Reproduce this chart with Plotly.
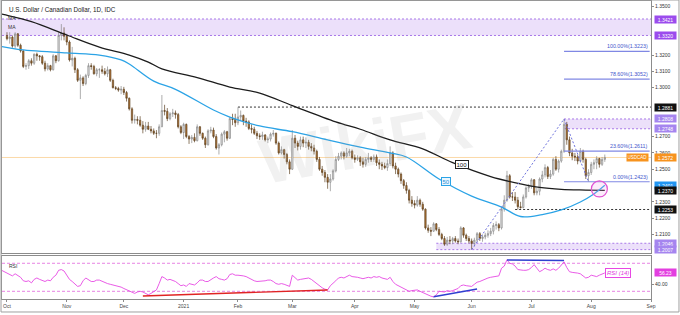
import pandas as pd
import plotly.graph_objects as go
from plotly.subplots import make_subplots

FONT = "Liberation Sans"
HOLIDAYS = ["2020-12-25", "2021-01-01"]
FIRST_OPEN = 3320  # pips above 1.0000

# ---- daily candles, Oct 1 2020 .. Aug 9 2021 (values in pips: 3300 -> 1.3300)
close_pips = [
    3300, 3310, 3255, 3330, 3260, 3225, 3130, 3135, 3165, 3150, 3205, 3195, 3190, 3150, 3115, 3135, 3110, 3195, 3165, 3320, 3335, 3315,
    3280, 3170, 3180, 3110, 3045, 3060, 3025, 3075, 3135, 3130, 3085, 3110, 3110, 3100, 3085, 3110, 3045, 3000, 2995, 2985, 2990,
    2970, 2935, 2870, 2800, 2805, 2800, 2770, 2745, 2765, 2745, 2735, 2720, 2720, 2760, 2860, 2855, 2810, 2840, 2845, 2835, 2760, 2725,
    2775, 2700, 2685, 2695, 2675, 2760, 2720, 2690, 2650, 2735, 2740, 2700, 2630, 2650, 2715, 2730, 2690, 2810, 2805, 2785,
    2820, 2830, 2795, 2790, 2750, 2745, 2720, 2705, 2700, 2710, 2680, 2685, 2715, 2720, 2660, 2600, 2620, 2590, 2545, 2500,
    2690, 2660, 2640, 2680, 2660, 2665, 2640, 2630, 2610, 2560, 2500, 2480, 2450, 2420, 2440, 2490, 2560, 2580, 2600, 2580, 2600, 2610, 2570,
    2560, 2570, 2545, 2530, 2560, 2570, 2560, 2575, 2540, 2530, 2520, 2510, 2535, 2600, 2520, 2500, 2470, 2430, 2400, 2370, 2310, 2290,
    2280, 2310, 2285, 2255, 2140, 2125, 2120, 2165, 2130, 2100, 2075, 2040, 2065, 2060, 2075, 2060, 2055, 2140, 2095, 2075, 2060,
    2045, 2065, 2105, 2075, 2085, 2095, 2105, 2120, 2155, 2160, 2140, 2255, 2310, 2460, 2330, 2330, 2310, 2270, 2265, 2330, 2385, 2395,
    2435, 2355, 2365, 2440, 2465, 2510, 2455, 2470, 2560, 2500, 2550, 2610, 2775, 2680, 2600, 2580, 2575, 2550, 2610, 2560, 2460, 2480,
    2530, 2540, 2565, 2530, 2560, 2572,
]
high_pips = [
    3340, 3340, 3320, 3340, 3335, 3270, 3230, 3150, 3175, 3180, 3210, 3215, 3200, 3200, 3165, 3150, 3140, 3205, 3200, 3340, 3390, 3370,
    3330, 3290, 3250, 3190, 3120, 3080, 3070, 3085, 3150, 3150, 3140, 3120, 3120, 3135, 3120, 3130, 3115, 3055, 3010, 3005, 3010,
    3005, 2980, 2940, 2880, 2835, 2825, 2825, 2795, 2790, 2790, 2765, 2750, 2740, 2775, 2955, 2895, 2875, 2850, 2870, 2860, 2845, 2770,
    2785, 2780, 2710, 2710, 2720, 2775, 2765, 2725, 2700, 2745, 2760, 2755, 2715, 2660, 2725, 2740, 2735, 2820, 2840, 2840,
    2880, 2860, 2835, 2815, 2800, 2775, 2760, 2735, 2720, 2730, 2715, 2700, 2725, 2740, 2725, 2670, 2640, 2625, 2600, 2560,
    2740, 2710, 2675, 2700, 2700, 2695, 2680, 2660, 2650, 2620, 2575, 2520, 2495, 2470, 2470, 2500, 2580, 2600, 2610, 2610, 2630, 2625, 2620,
    2590, 2585, 2580, 2570, 2575, 2600, 2580, 2590, 2590, 2560, 2545, 2540, 2560, 2640, 2610, 2540, 2510, 2480, 2440, 2420, 2380, 2335,
    2310, 2335, 2320, 2300, 2260, 2160, 2145, 2175, 2170, 2145, 2110, 2090, 2085, 2090, 2085, 2090, 2075, 2150, 2145, 2105, 2090,
    2075, 2080, 2115, 2115, 2100, 2110, 2125, 2140, 2170, 2180, 2170, 2270, 2340, 2490, 2470, 2360, 2360, 2330, 2300, 2345, 2395, 2410,
    2445, 2440, 2385, 2450, 2490, 2530, 2520, 2495, 2570, 2580, 2560, 2620, 2808, 2790, 2700, 2625, 2600, 2590, 2630, 2620, 2570, 2500,
    2545, 2560, 2580, 2570, 2575, 2590,
]
low_pips = [
    3290, 3270, 3245, 3240, 3250, 3215, 3120, 3110, 3115, 3135, 3140, 3165, 3165, 3140, 3100, 3105, 3100, 3105, 3150, 3160, 3290, 3290,
    3260, 3160, 3130, 3090, 3035, 2930, 3010, 3015, 3060, 3110, 3080, 3070, 3060, 3085, 3075, 3065, 3035, 2995, 2985, 2975, 2960,
    2955, 2915, 2860, 2780, 2780, 2775, 2760, 2720, 2730, 2740, 2720, 2710, 2690, 2705, 2760, 2830, 2795, 2800, 2820, 2810, 2750, 2715,
    2685, 2690, 2655, 2660, 2665, 2670, 2705, 2680, 2630, 2645, 2720, 2690, 2620, 2590, 2640, 2665, 2675, 2685, 2770, 2760,
    2770, 2795, 2770, 2760, 2740, 2720, 2710, 2685, 2680, 2680, 2670, 2660, 2670, 2700, 2650, 2590, 2590, 2565, 2530, 2470,
    2495, 2630, 2615, 2620, 2635, 2630, 2620, 2610, 2590, 2545, 2490, 2460, 2420, 2380, 2365, 2430, 2480, 2550, 2560, 2560, 2570, 2580, 2560,
    2540, 2550, 2520, 2510, 2515, 2540, 2545, 2545, 2520, 2500, 2495, 2500, 2490, 2520, 2505, 2470, 2450, 2410, 2380, 2350, 2290, 2270,
    2260, 2270, 2270, 2245, 2130, 2110, 2090, 2115, 2120, 2090, 2065, 2030, 2030, 2040, 2040, 2050, 2040, 2050, 2080, 2060, 2045,
    2007, 2025, 2050, 2060, 2055, 2070, 2080, 2090, 2100, 2130, 2120, 2130, 2240, 2300, 2320, 2305, 2290, 2253, 2258, 2260, 2320, 2360,
    2380, 2340, 2340, 2340, 2420, 2450, 2440, 2440, 2460, 2490, 2480, 2540, 2600, 2650, 2580, 2555, 2550, 2530, 2540, 2540, 2440, 2423,
    2465, 2500, 2500, 2510, 2520, 2545,
]

# ---- moving averages (read at intervals)
ma100_dates = ["2020-09-29", "2020-09-30", "2020-10-14", "2020-11-02", "2020-11-18", "2020-12-03", "2020-12-14",
               "2020-12-21", "2021-01-11", "2021-01-27", "2021-02-11", "2021-03-01", "2021-03-23", "2021-04-05",
               "2021-04-20", "2021-05-06", "2021-05-21", "2021-06-10", "2021-06-25", "2021-07-06", "2021-07-16",
               "2021-07-29", "2021-08-09"]
ma100_vals = [1.3452, 1.3448, 1.3405, 1.3323, 1.3249, 1.3200, 1.3157, 1.3115, 1.3062, 1.3004, 1.2967, 1.2890,
              1.2790, 1.2745, 1.2680, 1.2625, 1.2540, 1.2455, 1.2410, 1.2388, 1.2376, 1.2372, 1.2370]
ma50_dates = ["2020-09-29", "2020-10-07", "2020-11-02", "2020-11-18", "2020-11-30", "2020-12-03", "2020-12-16",
              "2020-12-29", "2021-01-19", "2021-01-27", "2021-02-11", "2021-03-01", "2021-03-18", "2021-04-05",
              "2021-04-20", "2021-04-28", "2021-05-14", "2021-06-01", "2021-06-16", "2021-06-25", "2021-07-07",
              "2021-07-16", "2021-07-27", "2021-08-03", "2021-08-09"]
ma50_vals = [1.3252, 1.3235, 1.3213, 1.3200, 1.3170, 1.3145, 1.3040, 1.2990, 1.2863, 1.2820, 1.2765, 1.2730,
             1.2680, 1.2636, 1.2600, 1.2575, 1.2440, 1.2335, 1.2268, 1.2210, 1.2222, 1.2250, 1.2299, 1.2348, 1.2401]

# ---- RSI(14), Sep 29 2020 .. Aug 9 2021
rsi_vals = [
    60, 58,
    56, 53, 52, 55, 52, 50, 45, 44, 45, 42, 47, 49, 47, 45, 44, 46, 45, 50, 53, 60, 61, 59,
    53, 47, 44, 41, 37, 38, 45, 49, 47, 44, 44, 46, 46, 44, 43, 41, 40, 39, 39, 38, 36,
    34, 32, 30, 28, 27, 29, 30, 29, 27, 25, 27, 30, 32, 41, 51, 49, 46, 47, 46, 44, 41, 38,
    39, 37, 41, 40, 39, 42, 46, 46, 44, 44, 47, 49, 51, 48, 47, 46, 48, 54, 55, 53,
    53, 53, 52, 51, 49, 46, 45, 44, 44, 44, 45, 46, 46, 44, 41, 40, 41, 40, 38, 37,
    53, 50, 46, 47, 48, 48, 49, 47, 44, 40, 37, 35, 33, 32, 38, 41, 45, 49, 50, 49, 51, 53, 51,
    51, 50, 49, 48, 49, 50, 49, 51, 50, 51, 49, 48, 47, 50, 44, 40, 38, 35, 33, 31, 30, 31,
    32, 32, 30, 28, 27, 25, 23, 22, 25, 30, 30, 29, 31, 30, 31, 33, 34, 38, 39, 38, 37,
    37, 40, 43, 44, 46, 48, 49, 50, 51, 51, 52, 63, 66, 75, 70, 69, 66, 61, 60, 60, 60, 61,
    64, 68, 63, 58, 60, 63, 61, 60, 62, 60, 63, 67, 72, 64, 58, 57, 57, 56, 55, 52, 49, 50,
    53, 52, 51, 53, 55, 56.23,
]

# ---- levels / labels
zones = [(1.3320, 1.3421, None), (1.2748, 1.2808, "2021-07-19"), (1.2007, 1.2046, "2021-05-13")]
fib_levels = [1.3223, 1.3052, 1.2611, 1.2423]
fib_labels = ["100.00%(1.3223)", "78.60%(1.3052)", "23.60%(1.2611)", "0.00%(1.2423)"]
dashed_levels = [(1.2881, "2021-02-01"), (1.2253, "2021-06-23")]
tags = [(1.3421, "1.3421", "#9b4ced"), (1.3320, "1.3320", "#9b4ced"), (1.2881, "1.2881", "#111111"),
        (1.2808, "1.2808", "#a585ef"), (1.2748, "1.2748", "#a585ef"), (1.2572, "1.2572", "#f7931e"),
        (1.2401, "1.2401", "#2196f3"), (1.2370, "1.2370", "#111111"), (1.2253, "1.2253", "#111111"),
        (1.2046, "1.2046", "#a585ef"), (1.2007, "1.2007", "#a585ef")]
month_ticks = ["2020-10-01", "2020-11-02", "2020-12-01", "2021-01-04", "2021-02-01", "2021-03-01", "2021-04-01",
               "2021-05-03", "2021-06-01", "2021-07-01", "2021-08-02", "2021-09-01"]
month_text = ["Oct", "Nov", "Dec", "2021", "Feb", "Mar", "Apr", "May", "Jun", "Jul", "Aug", "Sep"]
# axis labels left visible between the tags
price_ticks = [1.21, 1.22, 1.23, 1.25, 1.26, 1.27, 1.30, 1.31, 1.32, 1.35]
rsi_ticks = [40]

# ---- build
dates = [d for d in pd.bdate_range("2020-10-01", "2021-08-09") if d.strftime("%Y-%m-%d") not in HOLIDAYS]
rsi_dates = [d for d in pd.bdate_range("2020-09-29", "2021-08-09") if d.strftime("%Y-%m-%d") not in HOLIDAYS]
n = len(dates)
for name, arr in [("close", close_pips), ("high", high_pips), ("low", low_pips)]:
    if len(arr) != n:
        raise SystemExit(f"{name} has {len(arr)} values, expected {n}")
if len(rsi_vals) != len(rsi_dates):
    raise SystemExit(f"rsi has {len(rsi_vals)} values, expected {len(rsi_dates)}")

closes = [1 + v / 10000 for v in close_pips]
highs = [1 + v / 10000 for v in high_pips]
lows = [1 + v / 10000 for v in low_pips]
opens = [1 + FIRST_OPEN / 10000] + closes[:-1]

X0, X1 = "2020-09-29 04:00", "2021-09-01 00:00"
XEND = "2021-08-31 12:00"
Y0, Y1 = 1.19863, 1.35314

fig = make_subplots(rows=2, cols=1, shared_xaxes=True, vertical_spacing=0.0)

fig.add_trace(go.Candlestick(
    x=dates, open=opens, high=highs, low=lows, close=closes,
    increasing=dict(line=dict(color="#8a8a8a", width=0.7), fillcolor="#e6e6e6"),
    decreasing=dict(line=dict(color="#5e4424", width=0.7), fillcolor="#b8742e"),
    whiskerwidth=0, hoverinfo="skip", showlegend=False), row=1, col=1)
fig.add_trace(go.Scatter(x=ma100_dates, y=ma100_vals, mode="lines",
                         line=dict(color="#1c1c1c", width=1.3, shape="spline"),
                         hoverinfo="skip", showlegend=False), row=1, col=1)
fig.add_trace(go.Scatter(x=ma50_dates, y=ma50_vals, mode="lines",
                         line=dict(color="#2ba3e6", width=1.3, shape="spline"),
                         hoverinfo="skip", showlegend=False), row=1, col=1)
fig.add_trace(go.Scatter(x=rsi_dates, y=rsi_vals, mode="lines",
                         line=dict(color="#e748e3", width=0.9),
                         hoverinfo="skip", showlegend=False), row=2, col=1)

shapes = []
# current price line
shapes.append(dict(type="line", xref="paper", yref="y", x0=0, x1=1, y0=1.2572, y1=1.2572,
                   line=dict(color="#fbd9a8", width=1), layer="below"))
for lo, hi, start in zones:
    if start is None:
        xr, a, b = "paper", 0, 1
    else:
        xr, a, b = "x", start, X1
    shapes.append(dict(type="rect", xref=xr, yref="y", x0=a, x1=b, y0=lo, y1=hi,
                       fillcolor="#ece0fa", line=dict(width=0), layer="below"))
    for lv in (lo, hi):
        shapes.append(dict(type="line", xref=xr, yref="y", x0=a, x1=b, y0=lv, y1=lv,
                           line=dict(color="#a878e8", width=1, dash="2px,2px"), layer="below"))
for lv, start in dashed_levels:
    shapes.append(dict(type="line", xref="x", yref="y", x0=start, x1=X1, y0=lv, y1=lv,
                       line=dict(color="#333333", width=1, dash="2px,2px"), layer="below"))
for lv in fib_levels:
    shapes.append(dict(type="line", xref="x", yref="y", x0="2021-07-19", x1=XEND, y0=lv, y1=lv,
                       line=dict(color="#8088e4", width=1.2)))
# fib extension path
for (xa, ya), (xb, yb) in [(("2021-06-01", 1.2007), ("2021-07-19", 1.2808)),
                           (("2021-07-19", 1.2808), ("2021-07-30", 1.2423))]:
    shapes.append(dict(type="line", xref="x", yref="y", x0=xa, x1=xb, y0=ya, y1=yb,
                       line=dict(color="#6d72dc", width=1, dash="2px,2px")))
# crossover circle
shapes.append(dict(type="circle", xref="x", yref="y", xsizemode="pixel", ysizemode="pixel",
                   xanchor="2021-08-05", yanchor=1.2379, x0=-8, x1=8, y0=-8, y1=8,
                   line=dict(color="#e052d2", width=1.2), fillcolor="rgba(240,170,235,0.22)"))
# RSI guides
for lv in (70, 30):
    shapes.append(dict(type="line", xref="paper", yref="y2", x0=0, x1=1, y0=lv, y1=lv,
                       line=dict(color="#e783e3", width=1, dash="3px,2px"), layer="below"))
for (xa, ya), (xb, yb), col in [(("2020-12-10", 23.3), ("2021-03-18", 31.9), "#e02424"),
                                (("2021-05-12", 22.3), ("2021-06-03", 33.3), "#2f3fd0"),
                                (("2021-06-18", 74.7), ("2021-07-19", 73.9), "#2f3fd0")]:
    shapes.append(dict(type="line", xref="x2", yref="y2", x0=xa, x1=xb, y0=ya, y1=yb,
                       line=dict(color=col, width=1.4)))
# outer frame
shapes.append(dict(type="rect", xref="paper", yref="paper", x0=-0.0015, x1=1.0431, y0=-0.0436, y1=1.0034,
                   line=dict(color="#a0a0a0", width=1), fillcolor="rgba(0,0,0,0)"))
fig.update_layout(shapes=shapes)

ann = []
ann.append(dict(xref="paper", yref="paper", x=0.56, y=0.33, text="<b>WikiFX</b>", showarrow=False,
                textangle=-10, font=dict(size=64, color="rgba(160,160,160,0.15)", family=FONT)))
ann.append(dict(xref="paper", yref="paper", x=0.0077, y=0.9698, xanchor="left", yanchor="middle",
                text="U.S. Dollar / Canadian Dollar, 1D, IDC", showarrow=False,
                font=dict(size=6.3, color="#222222", family=FONT)))
for yy in (0.9446, 0.9128):
    ann.append(dict(xref="paper", yref="paper", x=0.006, y=yy, xanchor="left", yanchor="middle",
                    text="MA", showarrow=False, font=dict(size=5, color="#333333", family=FONT)))
ann.append(dict(xref="paper", yref="paper", x=0.0077, y=0.1124, xanchor="left", yanchor="middle",
                text="RSI", showarrow=False, font=dict(size=5, color="#333333", family=FONT)))
for lv, lab in zip(fib_levels, fib_labels):
    ann.append(dict(xref="x", yref="y", x=XEND, y=lv, xanchor="right", yanchor="bottom", yshift=0,
                    text=lab, showarrow=False, font=dict(size=5.3, color="#4356cc", family=FONT)))
ann.append(dict(xref="x", yref="y", x="2021-05-26 12:00", y=1.2529, text="100", showarrow=False,
                bgcolor="white", bordercolor="#222222", borderwidth=1, borderpad=0.5,
                font=dict(size=6, color="#111111", family=FONT)))
ann.append(dict(xref="x", yref="y", x="2021-05-18 10:00", y=1.2425, text="50", showarrow=False,
                bgcolor="#eaf6fe", bordercolor="#2ba3e6", borderwidth=1, borderpad=0.5,
                font=dict(size=6, color="#2a8fd8", family=FONT)))
ann.append(dict(xref="paper", yref="y", x=1, xanchor="right", xshift=-2, y=1.2572, text="USDCAD",
                showarrow=False, bgcolor="#f7931e", width=20, height=6, borderpad=0.5,
                font=dict(size=4.5, color="white", family=FONT)))
for lv, txt, bg in tags:
    ann.append(dict(xref="paper", yref="y", x=1, xanchor="left", xshift=3, y=lv, text=txt, showarrow=False,
                    bgcolor=bg, width=20, height=6, borderpad=0.5, font=dict(size=5, color="white", family=FONT)))
ann.append(dict(xref="paper", yref="y2", x=1, xanchor="left", xshift=3, y=56.23, text="56.23", showarrow=False,
                bgcolor="#e33fe0", width=20, height=6, borderpad=0.5, font=dict(size=5, color="white", family=FONT)))
ann.append(dict(xref="paper", yref="paper", x=0.9692, y=0.0705, text="<i>RSI (14)</i>", showarrow=False,
                bgcolor="white", bordercolor="#e748e3", borderwidth=1, borderpad=1,
                font=dict(size=6, color="#e040dc", family=FONT)))
fig.update_layout(annotations=ann)

axis_line = dict(showline=True, linecolor="#8c8c8c", linewidth=1, mirror=True, showgrid=False, zeroline=False)
fig.update_xaxes(type="date", range=[X0, X1],
                 rangebreaks=[dict(bounds=["sat", "mon"]), dict(values=HOLIDAYS)], **axis_line)
fig.update_xaxes(showticklabels=False, ticks="", rangeslider_visible=False, row=1, col=1)
fig.update_xaxes(tickmode="array", tickvals=month_ticks, ticktext=month_text, ticks="outside", ticklen=2,
                 tickcolor="#8c8c8c", tickfont=dict(size=5, color="#444444", family=FONT), row=2, col=1)
fig.update_yaxes(side="right", range=[Y0, Y1], tickmode="array", tickvals=price_ticks,
                 ticktext=[f"{v:.4f}" for v in price_ticks], ticks="outside", ticklen=2, tickcolor="#8c8c8c",
                 tickfont=dict(size=5, color="#333333", family=FONT), domain=[0.1544, 1], **axis_line, row=1, col=1)
fig.update_yaxes(side="right", range=[19, 80.4], tickmode="array", tickvals=rsi_ticks,
                 ticktext=[f"{v:.2f}" for v in rsi_ticks],
                 ticks="outside", ticklen=2, tickcolor="#8c8c8c",
                 tickfont=dict(size=5, color="#333333", family=FONT), domain=[0, 0.1443], **axis_line, row=2, col=1)

fig.update_layout(width=680, height=315, margin=dict(l=2, r=29, t=1, b=16),
                  paper_bgcolor="white", plot_bgcolor="white", showlegend=False,
                  font=dict(family=FONT), xaxis_rangeslider_visible=False)
fig.write_html("out.html")
